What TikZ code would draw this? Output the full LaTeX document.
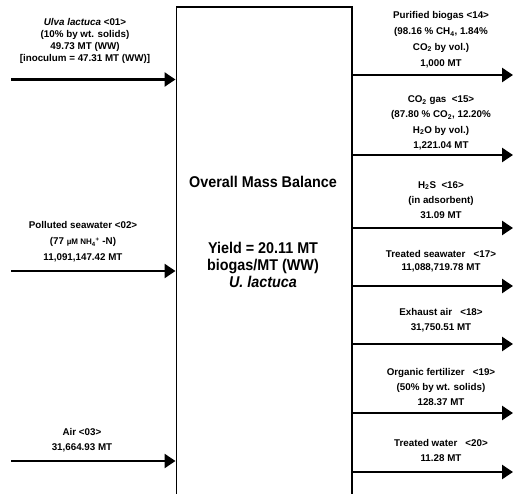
\documentclass[tikz,border=0pt]{standalone}
\usepackage{fontspec}
\setmainfont{Liberation Sans}
\newfontfamily\titlefont[FakeStretch = 0.92]{Liberation Sans}
\usepackage{tikz}
\usetikzlibrary{arrows.meta, positioning}
\newcommand{\lblfont}[1]{\fontsize{9.8pt}{#1}\selectfont\bfseries}
\newcommand{\sm}[1]{{\fontsize{8pt}{9pt}\selectfont #1}}

\begin{document}
\begin{tikzpicture}[x = 1pt, y = 1pt,
        flow/.style = {line width = 2.5pt, -{Triangle[length = 11pt, width = 14pt]}},
        lbl/.style = {align = center, inner sep = 0, font = \lblfont{#1}},
        lbl/.default = 15pt,
        title/.style = {align = center, inner sep = 0, font = \titlefont\fontsize{15.6pt}{17pt}\selectfont\bfseries}]
        \useasboundingbox (0, 0) rectangle (514, -494);

        % mass balance box, runs past the bottom edge
        \node [draw, line width = 1.8pt, minimum width = 175.5pt, minimum height = 560pt, anchor = north west] (box) at (175.5, -6) {};
        \node [title] (ttl) at (263, -182) {Overall Mass Balance};
        \node [title] (yld) at (263, -265) {Yield = 20.11 MT\\biogas/MT (WW)\\\textit{U. lactuca}};

        % inputs
        \coordinate (in01) at (11, -79.5);
        \coordinate (in02) at (11, -271);
        \coordinate (in03) at (11, -461);
        \draw [flow] (in01) -- (in01 -| box.west);
        \draw [flow] (in02) -- (in02 -| box.west);
        \draw [flow] (in03) -- (in03 -| box.west);

        \node [lbl = 12.1pt] (t01) at (85, -40.8) {\textit{Ulva lactuca} <01>\\(10\% by wt. solids)\\49.73 MT (WW)\\{}[inoculum = 47.31 MT (WW)]};
        \node [lbl = 16pt] (t02) at (83, -242) {Polluted seawater <02>\\(77 \sm{µM NH\textsubscript{4}\textsuperscript{+}} -N)\\11,091,147.42 MT};
        \node [lbl] (t03) at (82, -440.5) {Air <03>\\31,664.93 MT};

        % outputs
        \coordinate (out14) at (513, -75);
        \coordinate (out15) at (513, -155);
        \coordinate (out16) at (513, -228);
        \coordinate (out17) at (513, -286);
        \coordinate (out18) at (513, -344);
        \coordinate (out19) at (513, -413);
        \coordinate (out20) at (513, -472);
        \draw [flow] (out14 -| box.east) -- (out14);
        \draw [flow] (out15 -| box.east) -- (out15);
        \draw [flow] (out16 -| box.east) -- (out16);
        \draw [flow] (out17 -| box.east) -- (out17);
        \draw [flow] (out18 -| box.east) -- (out18);
        \draw [flow] (out19 -| box.east) -- (out19);
        \draw [flow] (out20 -| box.east) -- (out20);

        \node [lbl = 15.8pt] (t14) at (441, -39.7) {Purified biogas <14>\\(98.16 \% CH\textsubscript{4}, 1.84\%\\CO\textsubscript{2} by vol.)\\1,000 MT};
        \node [lbl = 15.2pt] (t15) at (441, -122.8) {CO\textsubscript{2} gas\ \ <15>\\(87.80 \% CO\textsubscript{2}, 12.20\%\\H\textsubscript{2}O by vol.)\\1,221.04 MT};
        \node [lbl] (t16) at (441, -200) {H\textsubscript{2}S\ \ <16>\\(in adsorbent)\\31.09 MT};
        \node [lbl = 13pt] (t17) at (441, -261.5) {Treated seawater\ \ \ <17>\\11,088,719.78 MT};
        \node [lbl] (t18) at (441, -320.5) {Exhaust air\ \ \ <18>\\31,750.51 MT};
        \node [lbl] (t19) at (441, -387) {Organic fertilizer\ \ \ <19>\\(50\% by wt. solids)\\128.37 MT};
        \node [lbl] (t20) at (441, -450.5) {Treated water\ \ \ <20>\\11.28 MT};
    \end{tikzpicture}
\end{document}
